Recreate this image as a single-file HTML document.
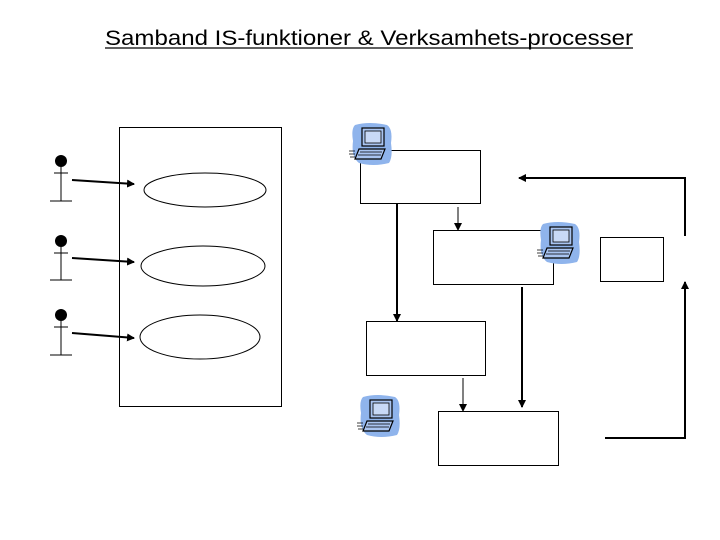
<!DOCTYPE html>
<html><head><meta charset="utf-8"><style>html,body{margin:0;padding:0;background:#fff}svg{display:block}</style></head>
<body>
<svg width="720" height="540" viewBox="0 0 720 540" xmlns="http://www.w3.org/2000/svg">
<defs>
<marker id="ah" markerWidth="8" markerHeight="8" refX="7" refY="4" orient="auto" markerUnits="userSpaceOnUse"><path d="M0,0 L8,4 L0,8 Z" fill="#000"/></marker>
<g id="pc">
<path d="M6,2 Q20,-2 38,2 Q44,6 42,20 Q44,34 40,40 Q24,44 10,40 Q2,34 4,18 Q2,6 6,2Z" fill="#8fb4ec"/>
<rect x="13" y="5" width="22" height="18" fill="#a9c4f0" stroke="#000" stroke-width="1.2"/>
<rect x="16" y="8" width="16" height="12" fill="#c8d9f6" stroke="#000" stroke-width="0.8"/>
<path d="M10,26 L36,26 L32,36 L6,36 Z" fill="#a9c4f0" stroke="#000" stroke-width="1.2"/>
<path d="M11,29 L33,29 M9,32 L32,32" stroke="#000" stroke-width="0.8"/>
<path d="M0,28 L6,28 M0,31 L6,31 M1,34 L6,34" stroke="#000" stroke-width="0.7"/>
</g>
</defs>
<text x="105" y="45" font-family="Liberation Sans, sans-serif" font-size="21" textLength="528" lengthAdjust="spacingAndGlyphs">Samband IS-funktioner &amp; Verksamhets-processer</text>
<line x1="105" y1="48" x2="633" y2="48" stroke="#000" stroke-width="1.2"/>
<g fill="none" stroke="#000" stroke-width="1">
<rect x="119.5" y="127.5" width="162" height="279"/>
<ellipse cx="205" cy="190" rx="61" ry="17"/>
<ellipse cx="203" cy="266" rx="62" ry="20"/>
<ellipse cx="200" cy="337" rx="60" ry="22"/>
<rect x="360.5" y="150.5" width="120" height="53"/>
<rect x="433.5" y="230.5" width="120" height="54"/>
<rect x="600.5" y="237.5" width="63" height="44"/>
<rect x="366.5" y="321.5" width="119" height="54"/>
<rect x="438.5" y="411.5" width="120" height="54"/>
<path d="M61,167 V201 M54,173 H68 M50,201 H72"/>
<path d="M61,247 V280 M54,253 H68 M50,280 H72"/>
<path d="M61,321 V355 M54,327 H68 M50,355 H72"/>
<line x1="458" y1="207" x2="458" y2="230" marker-end="url(#ah)"/>
<line x1="463" y1="378" x2="463" y2="411" marker-end="url(#ah)"/>
</g>
<g fill="#000"><circle cx="61" cy="161" r="6"/><circle cx="61" cy="241" r="6"/><circle cx="61" cy="315" r="6"/></g>
<g fill="none" stroke="#000" stroke-width="2">
<line x1="72" y1="180" x2="134" y2="184" marker-end="url(#ah)"/>
<line x1="72" y1="258" x2="134" y2="262" marker-end="url(#ah)"/>
<line x1="72" y1="333" x2="134" y2="338" marker-end="url(#ah)"/>
<line x1="397" y1="203" x2="397" y2="321" marker-end="url(#ah)"/>
<line x1="522" y1="287" x2="522" y2="407" marker-end="url(#ah)"/>
<path d="M685,236 V178 H519" marker-end="url(#ah)"/>
<path d="M605,438 H685 V282" marker-end="url(#ah)"/>
</g>
<use href="#pc" x="349" y="123"/>
<use href="#pc" x="537" y="222"/>
<use href="#pc" x="357" y="395"/>
</svg>
</body></html>
